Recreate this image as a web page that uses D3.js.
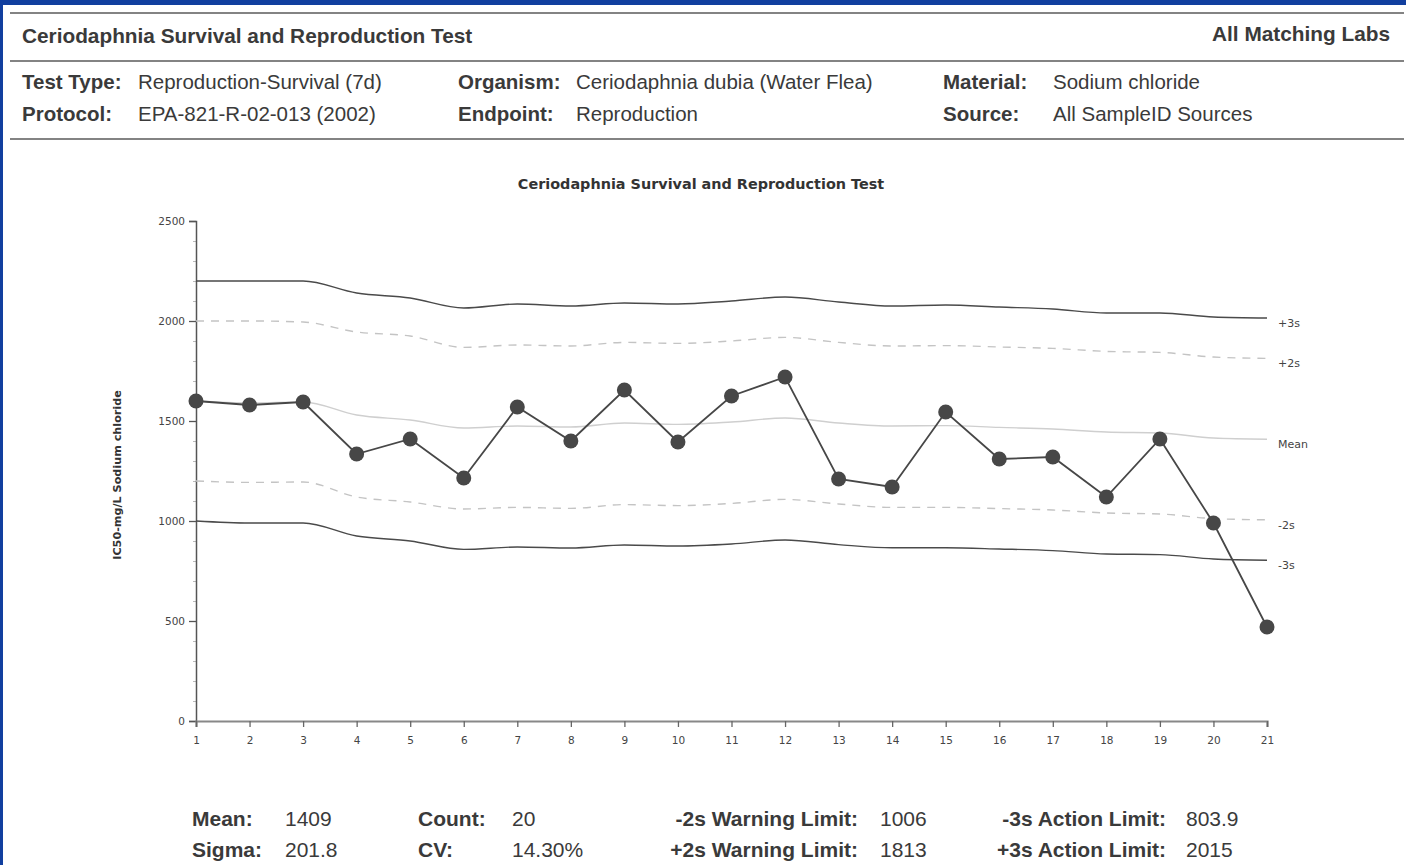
<!DOCTYPE html>
<html>
<head>
<meta charset="utf-8">
<script src="https://cdn.jsdelivr.net/npm/d3@7/dist/d3.min.js"></script>
<style>
  html, body { margin: 0; padding: 0; background: #fff; }
  svg { display: block; }
</style>
</head>
<body>
<svg id="page" width="1406" height="865"></svg>
<script>
// ---- Control chart data -------------------------------------------------
const runs    = [1, 2, 3, 4, 5, 6, 7, 8, 9, 10, 11, 12, 13, 14, 15, 16, 17, 18, 19, 20, 21];
const ic50    = [1600, 1580, 1595, 1335, 1410, 1215, 1570, 1400, 1655, 1395, 1625, 1720, 1210, 1170, 1545, 1310, 1320, 1120, 1410, 990, 470];
const plus3s  = [2200, 2200, 2200, 2140, 2115, 2065, 2085, 2075, 2090, 2085, 2100, 2120, 2095, 2075, 2080, 2070, 2060, 2040, 2040, 2020, 2015];
const plus2s  = [2000, 2000, 1995, 1945, 1925, 1868, 1880, 1875, 1893, 1888, 1900, 1918, 1893, 1875, 1877, 1870, 1863, 1848, 1843, 1820, 1813];
const meanLn  = [1600, 1590, 1595, 1530, 1505, 1465, 1475, 1470, 1490, 1483, 1495, 1515, 1490, 1475, 1477, 1468, 1460, 1445, 1440, 1415, 1409];
const minus2s = [1200, 1193, 1195, 1120, 1095, 1060, 1068, 1063, 1082, 1077, 1088, 1108, 1085, 1068, 1068, 1062, 1055, 1040, 1035, 1012, 1006];
const minus3s = [1000, 990, 990, 925, 900, 858, 870, 865, 880, 875, 885, 905, 882, 866, 866, 860, 852, 835, 832, 810, 803.9];
const yTicks  = [0, 500, 1000, 1500, 2000, 2500];
const limitNames = ["+3s", "+2s", "Mean", "-2s", "-3s"];

// ---- Report text --------------------------------------------------------
const reportTitle = "Ceriodaphnia Survival and Reproduction Test";
const reportScope = "All Matching Labs";
const infoLabels = [["Test Type:", "Protocol:"], ["Organism:", "Endpoint:"], ["Material:", "Source:"]];
const infoValues = [["Reproduction-Survival (7d)", "EPA-821-R-02-013 (2002)"],
                    ["Ceriodaphnia dubia (Water Flea)", "Reproduction"],
                    ["Sodium chloride", "All SampleID Sources"]];
const statLabels = [["Mean:", "Sigma:"], ["Count:", "CV:"],
                    ["-2s Warning Limit:", "+2s Warning Limit:"],
                    ["-3s Action Limit:", "+3s Action Limit:"]];
const statValues = [["1409", "201.8"], ["20", "14.30%"], ["1006", "1813"], ["803.9", "2015"]];
const chartTitle = "Ceriodaphnia Survival and Reproduction Test";
const yTitle = "IC50-mg/L Sodium chloride";

const svg = d3.select("#page");
const W = 1406, H = 865;

// page frame
svg.append("rect").attr("width", W).attr("height", H).attr("fill", "#fff");
svg.append("rect").attr("x", 0).attr("y", 0).attr("width", W).attr("height", 5).attr("fill", "#113f9f");
svg.append("rect").attr("x", 0).attr("y", 0).attr("width", 3).attr("height", H).attr("fill", "#113f9f");

// header rules
[13, 61, 139].forEach(y => {
  svg.append("line").attr("x1", 10).attr("x2", 1404).attr("y1", y).attr("y2", y)
    .attr("stroke", "#5a5a5a").attr("stroke-width", 1.6);
});

const hdrFont = "'Liberation Sans', Arial, sans-serif";
const ink = "#3a3a3a";
svg.append("text").attr("x", 22).attr("y", 43).text(reportTitle)
  .attr("font-family", hdrFont).attr("font-size", 20.8).attr("font-weight", "bold").attr("fill", ink);
svg.append("text").attr("x", 1390).attr("y", 41).attr("text-anchor", "end").text(reportScope)
  .attr("font-family", hdrFont).attr("font-size", 20.8).attr("font-weight", "bold").attr("fill", ink);

const infoLabelX = [22, 458, 943], infoValueX = [138, 576, 1053], infoRowY = [89, 121];
infoLabels.forEach((col, c) => col.forEach((t, r) => {
  svg.append("text").attr("x", infoLabelX[c]).attr("y", infoRowY[r]).text(t)
    .attr("font-family", hdrFont).attr("font-size", 20.5).attr("font-weight", "bold").attr("fill", ink);
  svg.append("text").attr("x", infoValueX[c]).attr("y", infoRowY[r]).text(infoValues[c][r])
    .attr("font-family", hdrFont).attr("font-size", 20.5).attr("fill", ink);
}));

// summary statistics
const statLabelX = [192, 418, 858, 1166], statAnchor = ["start", "start", "end", "end"];
const statValueX = [285, 512, 880, 1186], statRowY = [826, 857];
statLabels.forEach((col, c) => col.forEach((t, r) => {
  svg.append("text").attr("x", statLabelX[c]).attr("y", statRowY[r]).attr("text-anchor", statAnchor[c]).text(t)
    .attr("font-family", hdrFont).attr("font-size", 21).attr("font-weight", "bold").attr("fill", ink);
  svg.append("text").attr("x", statValueX[c]).attr("y", statRowY[r]).text(statValues[c][r])
    .attr("font-family", hdrFont).attr("font-size", 21).attr("fill", ink);
}));

// ---- Chart --------------------------------------------------------------
const chFont = "'DejaVu Sans', Verdana, sans-serif";
const x = d3.scaleLinear().domain([1, 21]).range([196, 1267]);
const y = d3.scaleLinear().domain([0, 2500]).range([721, 221]);

svg.append("text").attr("x", 701).attr("y", 189).attr("text-anchor", "middle").text(chartTitle)
  .attr("font-family", chFont).attr("font-size", 14.4).attr("font-weight", "bold").attr("fill", "#333");

svg.append("text")
  .attr("transform", `translate(121, ${y(1250) + 4}) rotate(-90)`)
  .attr("text-anchor", "middle").text(yTitle)
  .attr("font-family", chFont).attr("font-size", 11.2).attr("font-weight", "bold").attr("fill", "#333");

// y axis with minor ticks
const yMinor = svg.append("g").attr("transform", "translate(196,0)")
  .call(d3.axisLeft(y).tickValues(d3.range(0, 2501, 100)).tickSize(3).tickFormat(""));
yMinor.select(".domain").remove();
yMinor.selectAll("line").attr("stroke", "#bbb");

const yAxis = svg.append("g").attr("transform", "translate(196,0)")
  .call(d3.axisLeft(y).tickValues(yTicks).tickSize(7).tickPadding(4).tickFormat(d3.format("d")));
yAxis.select(".domain").attr("stroke", "#555").attr("stroke-width", 1.5);
yAxis.selectAll("line").attr("stroke", "#555").attr("stroke-width", 1.3);
yAxis.selectAll("text").attr("font-family", chFont).attr("font-size", 10.5).attr("fill", "#444");

const xAxis = svg.append("g").attr("transform", "translate(0,721)")
  .call(d3.axisBottom(x).tickValues(runs).tickSize(6).tickPadding(10).tickFormat(d3.format("d")));
xAxis.select(".domain").attr("stroke", "#888").attr("stroke-width", 2.2);
xAxis.selectAll("line").attr("stroke", "#666").attr("stroke-width", 1.3);
xAxis.selectAll("text").attr("font-family", chFont).attr("font-size", 10.5).attr("fill", "#444");

// control limit lines
const limits = [
  { vals: plus3s,  stroke: "#4a4a4a", width: 1.4, dash: null },
  { vals: plus2s,  stroke: "#c4c4c4", width: 1.4, dash: "8,7" },
  { vals: meanLn,  stroke: "#cfcfcf", width: 1.4, dash: null },
  { vals: minus2s, stroke: "#c4c4c4", width: 1.4, dash: "8,7" },
  { vals: minus3s, stroke: "#4a4a4a", width: 1.4, dash: null }
];
const limLine = d3.line().x((d, i) => x(runs[i])).y(d => y(d)).curve(d3.curveMonotoneX);
limits.forEach((l, k) => {
  svg.append("path").datum(l.vals).attr("d", limLine)
    .attr("fill", "none").attr("stroke", l.stroke).attr("stroke-width", l.width)
    .attr("stroke-dasharray", l.dash);
  svg.append("text").attr("x", 1278).attr("y", y(l.vals[l.vals.length - 1]) + 9)
    .text(limitNames[k])
    .attr("font-family", chFont).attr("font-size", 11).attr("fill", "#444");
});

// measured IC50 series
const dataLine = d3.line().x((d, i) => x(runs[i])).y(d => y(d));
svg.append("path").datum(ic50).attr("d", dataLine)
  .attr("fill", "none").attr("stroke", "#474747").attr("stroke-width", 1.8);
svg.selectAll("circle.pt").data(ic50).enter().append("circle").attr("class", "pt")
  .attr("cx", (d, i) => x(runs[i])).attr("cy", d => y(d)).attr("r", 7.5)
  .attr("fill", "#474747");
</script>
</body>
</html>
